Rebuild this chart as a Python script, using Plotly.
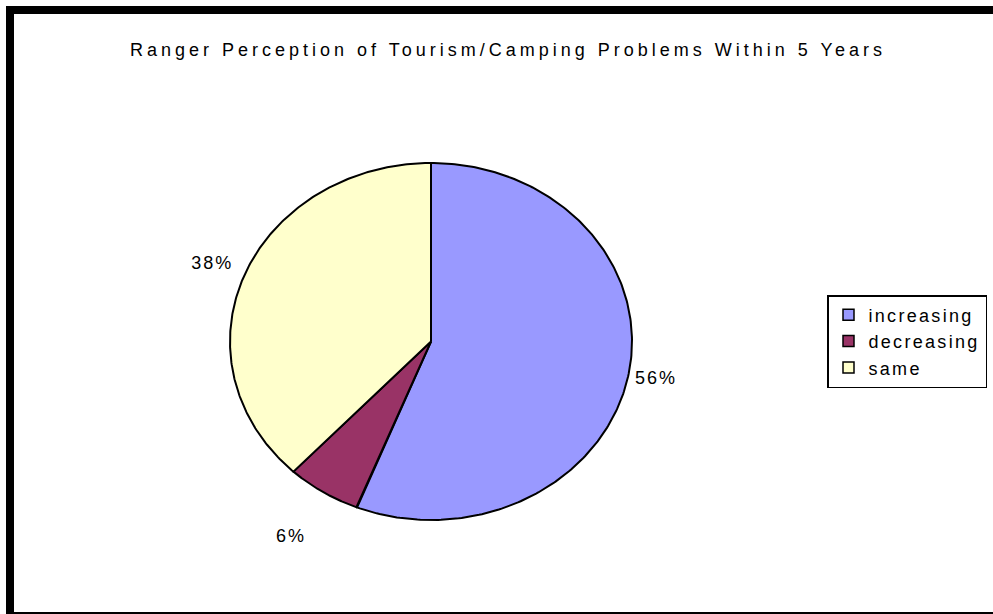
import numpy as np
import plotly.graph_objects as go

# Survey answers: share of rangers for each expected trend
categories = ["increasing", "decreasing", "same"]
shares = [56, 6, 38]
colors = ["#9999FF", "#993366", "#FFFFCC"]
title_text = "Ranger Perception of Tourism/Camping Problems Within 5 Years"

W, H = 993, 614
# Pie placement in pixels (the pie is an ellipse: axes are scaled unevenly)
CX, CY, RX, RY = 431, 341.5, 201, 178.5
# distance of each percentage label from the centre, in pie radii
LABEL_R = [1.14, 1.30, 1.17]
FONT = "Arial, Liberation Sans, sans-serif"


def spaced(text, px):
    return f'<span style="letter-spacing:{px}px">{text}</span>'


fig = go.Figure()

total = sum(shares)
start = 0.0
mid_angles = []
for name, val, col in zip(categories, shares, colors):
    frac0 = start / total
    frac1 = (start + val) / total
    # angles measured clockwise from 12 o'clock
    t = np.linspace(frac0, frac1, 240) * 2 * np.pi
    xs = np.concatenate([[0], np.sin(t), [0]])
    ys = np.concatenate([[0], np.cos(t), [0]])
    fig.add_trace(go.Scatter(
        x=xs, y=ys, mode="lines", fill="toself", fillcolor=col,
        line=dict(color="black", width=2), showlegend=False,
        hoverinfo="skip", name=name,
    ))
    mid_angles.append((frac0 + frac1) / 2 * 2 * np.pi)
    start += val

# Percentage labels outside each slice
lab_x = [r * np.sin(a) for r, a in zip(LABEL_R, mid_angles)]
lab_y = [r * np.cos(a) for r, a in zip(LABEL_R, mid_angles)]
lab_t = [spaced(f"{v / total * 100:.0f}%", 2) for v in shares]
fig.add_trace(go.Scatter(
    x=lab_x, y=lab_y, mode="text", text=lab_t, textposition="middle center",
    textfont=dict(family=FONT, size=18, color="black"),
    showlegend=False, hoverinfo="skip",
))

# Legend entries as square swatches
for name, col in zip(categories, colors):
    fig.add_trace(go.Scatter(
        x=[None], y=[None], mode="markers", name=spaced(name, 2.3),
        marker=dict(symbol="square", size=11, color=col,
                    line=dict(color="black", width=1.5)),
    ))

# Axis ranges so that one data unit equals RX / RY pixels
x0 = -CX / RX
x1 = x0 + W / RX
y1 = CY / RY
y0 = y1 - H / RY

fig.update_xaxes(range=[x0, x1], visible=False, fixedrange=True)
fig.update_yaxes(range=[y0, y1], visible=False, fixedrange=True)

# Chart frame: heavy left and top rules, thin rule along the bottom edge
frame = dict(color="black", width=8)
fig.add_shape(type="line", xref="paper", yref="paper",
              x0=10 / W, x1=10 / W, y0=0, y1=1 - 6 / H, line=frame)
fig.add_shape(type="line", xref="paper", yref="paper",
              x0=6 / W, x1=1, y0=1 - 10 / H, y1=1 - 10 / H, line=frame)
fig.add_shape(type="line", xref="paper", yref="paper",
              x0=6 / W, x1=1, y0=1 - 613 / H, y1=1 - 613 / H,
              line=dict(color="black", width=2))

fig.add_annotation(
    text=spaced(title_text, 4), xref="paper", yref="paper",
    x=508 / W, y=1 - 50 / H, showarrow=False, xanchor="center",
    yanchor="middle", font=dict(family=FONT, size=18, color="black"),
)

fig.update_layout(
    width=W, height=H, margin=dict(l=0, r=0, t=0, b=0, autoexpand=False),
    paper_bgcolor="white", plot_bgcolor="white",
    showlegend=True,
    legend=dict(
        x=827 / W, y=1 - 295 / H, xanchor="left", yanchor="top",
        bordercolor="black", borderwidth=1.5, bgcolor="white",
        font=dict(family=FONT, size=18, color="black"),
        itemwidth=30, tracegroupgap=0,
    ),
)

# keep the page itself from scrolling
fig.write_html(
    "out.html",
    config={"displayModeBar": False},
    post_script="document.documentElement.style.overflow='hidden';"
                "document.body.style.overflow='hidden';"
                "document.body.style.margin='0';",
)
